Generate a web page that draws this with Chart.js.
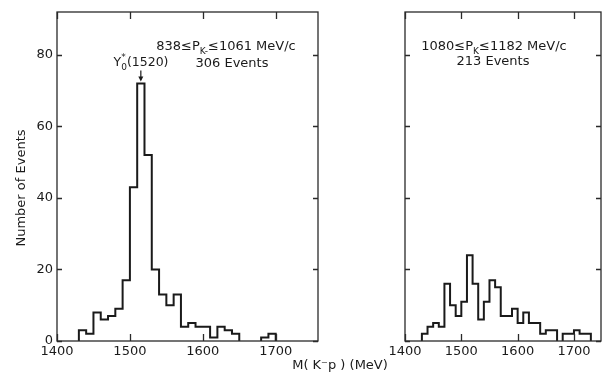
<!DOCTYPE html>
<html>
<head>
<meta charset="utf-8">
<script src="https://cdn.jsdelivr.net/npm/chart.js@4.4.0/dist/chart.umd.min.js"></script>
<style>
  html, body { margin: 0; padding: 0; background: #fff; }
  #wrap { position: relative; width: 602px; height: 379px; }
  #wrap canvas { position: absolute; left: 0; top: 0; }
</style>
</head>
<body>
<div id="wrap">
  <canvas id="leftChart" width="602" height="379"></canvas>
  <canvas id="rightChart" width="602" height="379"></canvas>
</div>
<script>
// lower bin edges (MeV), bins are 10 MeV wide
const binWidth = 10;
const leftEdges = [1430, 1440, 1450, 1460, 1470, 1480, 1490, 1500, 1510, 1520,
                   1530, 1540, 1550, 1560, 1570, 1580, 1590, 1600, 1610, 1620,
                   1630, 1640, 1650, 1660, 1670, 1680, 1690];
const leftCounts = [3, 2, 8, 6, 7, 9, 17, 43, 72, 52,
                    20, 13, 10, 13, 4, 5, 4, 4, 1, 4,
                    3, 2, 0, 0, 0, 1, 2];

const rightEdges = [1430, 1440, 1450, 1460, 1470, 1480, 1490, 1500, 1510, 1520,
                    1530, 1540, 1550, 1560, 1570, 1580, 1590, 1600, 1610, 1620,
                    1630, 1640, 1650, 1660, 1670, 1680, 1690, 1700, 1710, 1720];
const rightCounts = [2, 4, 5, 4, 16, 10, 7, 11, 24, 16,
                     6, 11, 17, 15, 7, 7, 9, 5, 8, 5,
                     5, 2, 3, 3, 0, 2, 2, 3, 2, 2];

const xTicks = [1400, 1500, 1600, 1700];
const yTicks = [0, 20, 40, 60, 80];

const FONT = 'DejaVu Sans';
const INK = '#1a1a1a';

// outline of a histogram as step points, broken where the count is 0
function histPoints(edges, counts) {
  const pts = [];
  for (let i = 0; i < edges.length; i++) {
    const c = counts[i];
    if (c === 0) {
      if (pts.length && pts[pts.length - 1].y !== null) {
        pts.push({x: edges[i], y: 0}, {x: edges[i], y: null});
      }
      continue;
    }
    if (!pts.length || pts[pts.length - 1].y === null) pts.push({x: edges[i], y: 0});
    pts.push({x: edges[i], y: c});
  }
  pts.push({x: edges[edges.length - 1] + binWidth, y: 0});
  return pts;
}

// text with sub/superscript pieces
function drawRich(ctx, parts, x, y, size, align) {
  ctx.save();
  ctx.textBaseline = 'middle';
  ctx.textAlign = 'left';
  const small = Math.round(size * 0.7);
  let w = 0;
  parts.forEach(p => {
    ctx.font = (p.sub || p.sup ? small : size) + 'px "' + FONT + '"';
    p.w = p.stack ? 0 : ctx.measureText(p.t).width;
    w += p.w;
  });
  let cx = align === 'center' ? x - w / 2 : x;
  parts.forEach(p => {
    ctx.font = (p.sub || p.sup ? small : size) + 'px "' + FONT + '"';
    const dy = p.sub ? size * 0.35 : (p.sup ? -size * 0.4 : 0);
    ctx.fillText(p.t, cx, y + dy);
    cx += p.w;
  });
  ctx.restore();
}

// per-canvas annotation drawers
const notesById = {};

const framePlugin = {
  id: 'frame',
  afterDraw(chart) {
    const {ctx, chartArea: a, scales: {x, y}} = chart;
    ctx.save();
    ctx.strokeStyle = '#2a2a2a';
    ctx.lineWidth = 1.3;
    ctx.strokeRect(a.left, a.top, a.right - a.left, a.bottom - a.top);
    ctx.beginPath();
    xTicks.forEach(v => {
      const px = Math.round(x.getPixelForValue(v)) + 0.5;
      ctx.moveTo(px, a.bottom); ctx.lineTo(px, a.bottom - 7);
      ctx.moveTo(px, a.top); ctx.lineTo(px, a.top + 7);
    });
    yTicks.forEach(v => {
      const py = Math.round(y.getPixelForValue(v)) + 0.5;
      ctx.moveTo(a.left, py); ctx.lineTo(a.left + 5, py);
      ctx.moveTo(a.right, py); ctx.lineTo(a.right - 5, py);
    });
    ctx.stroke();

    ctx.fillStyle = INK;
    ctx.strokeStyle = INK;
    const notes = notesById[chart.canvas.id];
    if (notes) notes(ctx, chart);
    ctx.restore();
  }
};

function makeChart(id, edges, counts, xMax, pad, showY) {
  return new Chart(document.getElementById(id), {
    type: 'line',
    data: {
      datasets: [{
        data: histPoints(edges, counts),
        stepped: true,
        spanGaps: false,
        borderColor: INK,
        borderWidth: 2,
        pointRadius: 0,
        fill: false
      }]
    },
    options: {
      responsive: false,
      animation: false,
      layout: {padding: pad},
      plugins: {legend: {display: false}, tooltip: {enabled: false}},
      scales: {
        x: {
          type: 'linear', min: 1400, max: xMax,
          grid: {display: false, drawTicks: false},
          border: {display: false},
          afterBuildTicks: s => { s.ticks = xTicks.map(v => ({value: v})); },
          afterFit: s => { s.height = 38; },
          ticks: {padding: 3, color: INK, font: {family: FONT, size: 13}, maxRotation: 0,
                  callback: v => String(v)}
        },
        y: {
          display: showY,
          min: 0, max: 92,
          grid: {display: false, drawTicks: false},
          border: {display: false},
          afterBuildTicks: s => { s.ticks = yTicks.map(v => ({value: v})); },
          afterFit: s => { s.width = 57; },
          ticks: {padding: 4, color: INK, font: {family: FONT, size: 13}}
        }
      }
    },
    plugins: [framePlugin]
  });
}

notesById.leftChart = (ctx, chart) => {
  const {x, y} = chart.scales;
  drawRich(ctx, [{t: '838≤P'}, {t: 'K-', sub: true}, {t: '≤1061 MeV/c'}], 226, 47, 13, 'center');
  drawRich(ctx, [{t: '306 Events'}], 232, 64, 13, 'center');
  drawRich(ctx, [{t: 'Y'}, {t: '*', sup: true, stack: true}, {t: '0', sub: true}, {t: '(1520)'}], 141, 63, 12.5, 'center');
  // arrow to the peak
  const ax = x.getPixelForValue(1515);
  const tip = y.getPixelForValue(72) - 2;
  ctx.lineWidth = 1.2;
  ctx.beginPath();
  ctx.moveTo(ax, tip - 11); ctx.lineTo(ax, tip - 2);
  ctx.stroke();
  ctx.beginPath();
  ctx.moveTo(ax - 2.5, tip - 5); ctx.lineTo(ax + 2.5, tip - 5); ctx.lineTo(ax, tip);
  ctx.closePath(); ctx.fill();
  // axis titles
  ctx.save();
  ctx.translate(22, 188);
  ctx.rotate(-Math.PI / 2);
  ctx.font = '13px "' + FONT + '"';
  ctx.textAlign = 'center';
  ctx.textBaseline = 'middle';
  ctx.fillText('Number of Events', 0, 0);
  ctx.restore();
  ctx.font = '13px "' + FONT + '"';
  ctx.textAlign = 'center';
  ctx.textBaseline = 'middle';
  ctx.fillText('M( K⁻p ) (MeV)', 340, 366);
};

notesById.rightChart = (ctx) => {
  drawRich(ctx, [{t: '1080≤P'}, {t: 'K', sub: true}, {t: '≤1182 MeV/c'}], 494, 47, 13, 'center');
  drawRich(ctx, [{t: '213 Events'}], 493, 62, 13, 'center');
};

makeChart('leftChart', leftEdges, leftCounts, 1758, {left: 0, right: 284, top: 12, bottom: 0}, true);
makeChart('rightChart', rightEdges, rightCounts, 1748, {left: 348, right: 1, top: 12, bottom: 0}, false);
</script>
</body>
</html>
